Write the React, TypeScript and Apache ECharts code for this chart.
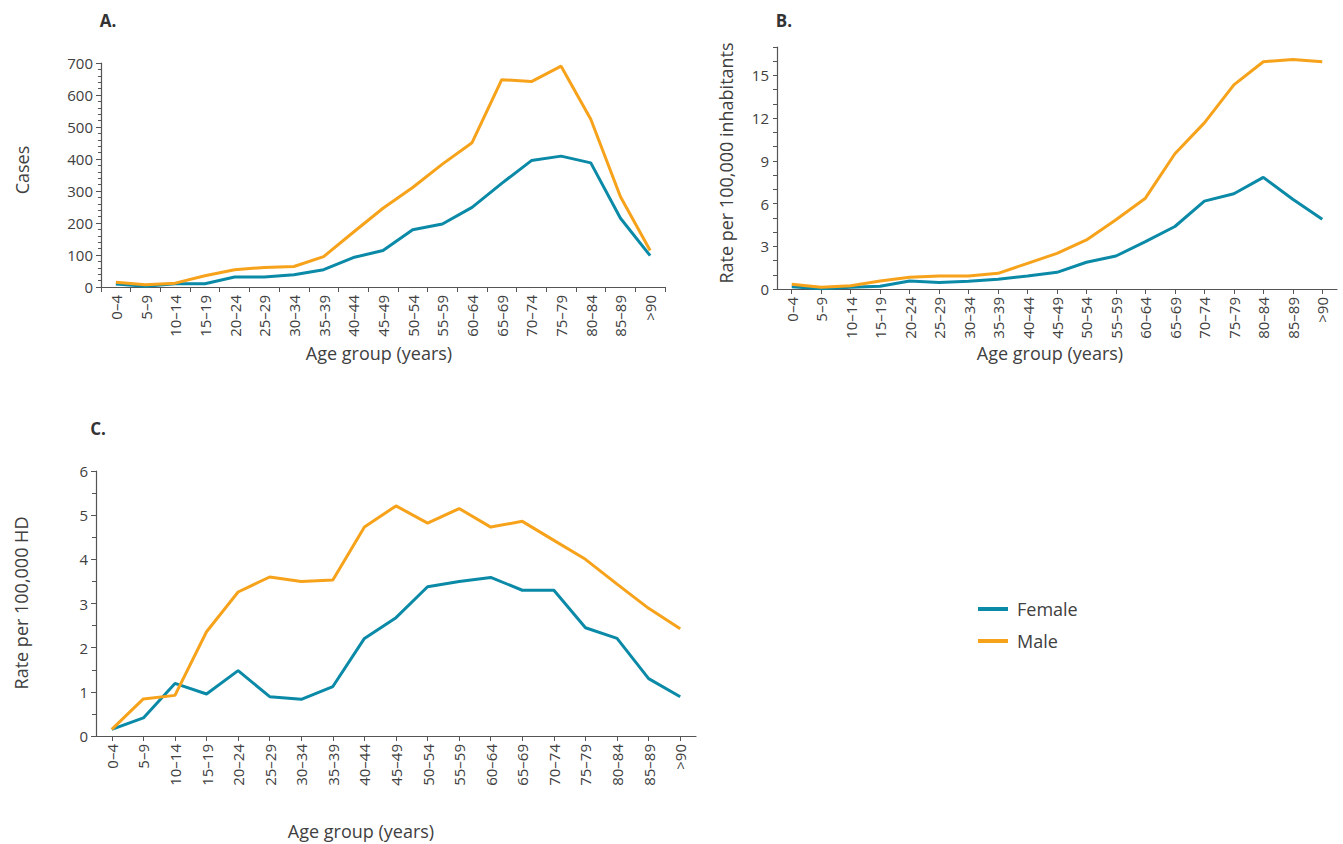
import React, { useEffect, useRef } from "react";
import * as echarts from "echarts";

const ageGroups = ["0–4","5–9","10–14","15–19","20–24","25–29","30–34","35–39","40–44","45–49","50–54","55–59","60–64","65–69","70–74","75–79","80–84","85–89",">90"];

const casesFemale = [9, 2, 10, 10, 31, 31, 38, 54, 92, 114, 179, 197, 249, 324, 395, 409, 388, 215, 98];
const casesMale = [15, 7, 12, 35, 54, 61, 64, 95, 171, 246, 311, 384, 451, 648, 642, 690, 524, 282, 114];

const rateInhFemale = [0.16, 0.02, 0.12, 0.2, 0.56, 0.45, 0.54, 0.68, 0.92, 1.17, 1.88, 2.32, 3.33, 4.39, 6.17, 6.69, 7.84, 6.31, 4.9];
const rateInhMale = [0.33, 0.12, 0.23, 0.56, 0.82, 0.92, 0.92, 1.1, 1.8, 2.5, 3.45, 4.86, 6.38, 9.5, 11.67, 14.34, 15.96, 16.13, 15.96];

const rateHdFemale = [0.15, 0.41, 1.19, 0.95, 1.48, 0.89, 0.83, 1.12, 2.21, 2.68, 3.38, 3.5, 3.59, 3.3, 3.3, 2.45, 2.21, 1.3, 0.89];
const rateHdMale = [0.15, 0.84, 0.92, 2.36, 3.26, 3.6, 3.5, 3.53, 4.73, 5.21, 4.82, 5.15, 4.73, 4.86, 4.43, 4.0, 3.44, 2.89, 2.43];

const FEMALE = "#0b8aa8";
const MALE = "#f7a21b";
const TEXT = "#404040";
const AXIS = "#555555";
const FONT = "'Open Sans', sans-serif";

export default function App() {
  const ref = useRef<HTMLDivElement>(null);
  useEffect(() => {
    if (!ref.current) return;
    const chart = echarts.init(ref.current, null, { renderer: "svg" });

    const xAxisBase = (gridIndex: number, align: boolean) => ({
      type: "category",
      gridIndex,
      data: ageGroups,
      boundaryGap: true,
      axisLine: { lineStyle: { color: AXIS, width: 1.2 } },
      axisTick: { show: true, alignWithLabel: align, length: 5, lineStyle: { color: AXIS } },
      axisLabel: { rotate: 90, color: TEXT, fontSize: 15, fontFamily: FONT, margin: 8, interval: 0 },
      splitLine: { show: false },
    });

    const yAxisBase = (gridIndex: number) => ({
      type: "value",
      gridIndex,
      axisLine: { show: true, lineStyle: { color: AXIS, width: 1.2 } },
      axisTick: { show: true, length: 5, lineStyle: { color: AXIS } },
      axisLabel: { color: TEXT, fontSize: 15, fontFamily: FONT, margin: 8 },
      splitLine: { show: false },
    });

    const line = (name: string, data: number[], idx: number, color: string) => ({
      type: "line",
      name,
      data,
      xAxisIndex: idx,
      yAxisIndex: idx,
      showSymbol: false,
      symbol: "none",
      lineStyle: { color, width: 3 },
      itemStyle: { color },
    });

    const text = (t: string, x: number, y: number, size: number, rot = 0, bold = false) => ({
      type: "text",
      x,
      y,
      rotation: rot,
      style: {
        text: t,
        fill: bold ? "#333333" : TEXT,
        font: `${bold ? "bold " : ""}${size}px ${FONT}`,
        align: "center",
        verticalAlign: "middle",
      },
    });

    chart.setOption({
      animation: false,
      backgroundColor: "#ffffff",
      grid: [
        { left: 101, top: 63, width: 564, height: 224, containLabel: false },
        { left: 777, top: 47, width: 560, height: 242, containLabel: false },
        { left: 96, top: 471, width: 600, height: 265, containLabel: false },
      ],
      xAxis: [xAxisBase(0, false), xAxisBase(1, true), xAxisBase(2, true)],
      yAxis: [
        {
          ...yAxisBase(0),
          min: 0,
          max: 700,
          interval: 100,
          minorTick: { show: true, splitNumber: 5, length: 3, lineStyle: { color: AXIS } },
        },
        {
          ...yAxisBase(1),
          min: 0,
          max: 17,
          interval: 1,
          axisTick: { show: true, length: 4, lineStyle: { color: AXIS } },
          axisLabel: {
            color: TEXT,
            fontSize: 15,
            fontFamily: FONT,
            margin: 8,
            formatter: (v: number) => (v % 3 === 0 ? String(v) : ""),
          },
        },
        {
          ...yAxisBase(2),
          min: 0,
          max: 6,
          interval: 1,
          minorTick: { show: true, splitNumber: 2, length: 4, lineStyle: { color: AXIS } },
        },
      ],
      legend: {
        data: ["Female", "Male"],
        orient: "vertical",
        left: 978,
        top: 600,
        padding: 0,
        itemWidth: 30,
        itemHeight: 4,
        itemGap: 14,
        icon: "rect",
        textStyle: { color: TEXT, fontSize: 18, fontFamily: FONT, lineHeight: 18, padding: [0, 0, 0, 4] },
      },
      series: [
        line("Female", casesFemale, 0, FEMALE),
        line("Male", casesMale, 0, MALE),
        line("Female", rateInhFemale, 1, FEMALE),
        line("Male", rateInhMale, 1, MALE),
        line("Female", rateHdFemale, 2, FEMALE),
        line("Male", rateHdMale, 2, MALE),
      ],
      graphic: [
        text("A.", 108, 20, 17, 0, true),
        text("B.", 784, 20, 17, 0, true),
        text("C.", 98, 428, 17, 0, true),
        text("Cases", 22, 170, 18, Math.PI / 2),
        text("Rate per 100,000 inhabitants", 726, 163, 18, Math.PI / 2),
        text("Rate per 100,000 HD", 21, 603, 18, Math.PI / 2),
        text("Age group (years)", 379, 353, 18),
        text("Age group (years)", 1050, 353, 18),
        text("Age group (years)", 361, 831, 18),
      ],
    });

    return () => chart.dispose();
  }, []);

  return (
    <div
      ref={ref}
      style={{ position: "fixed", left: 0, top: 0, width: 1343, height: 844, background: "#fff" }}
    />
  );
}
